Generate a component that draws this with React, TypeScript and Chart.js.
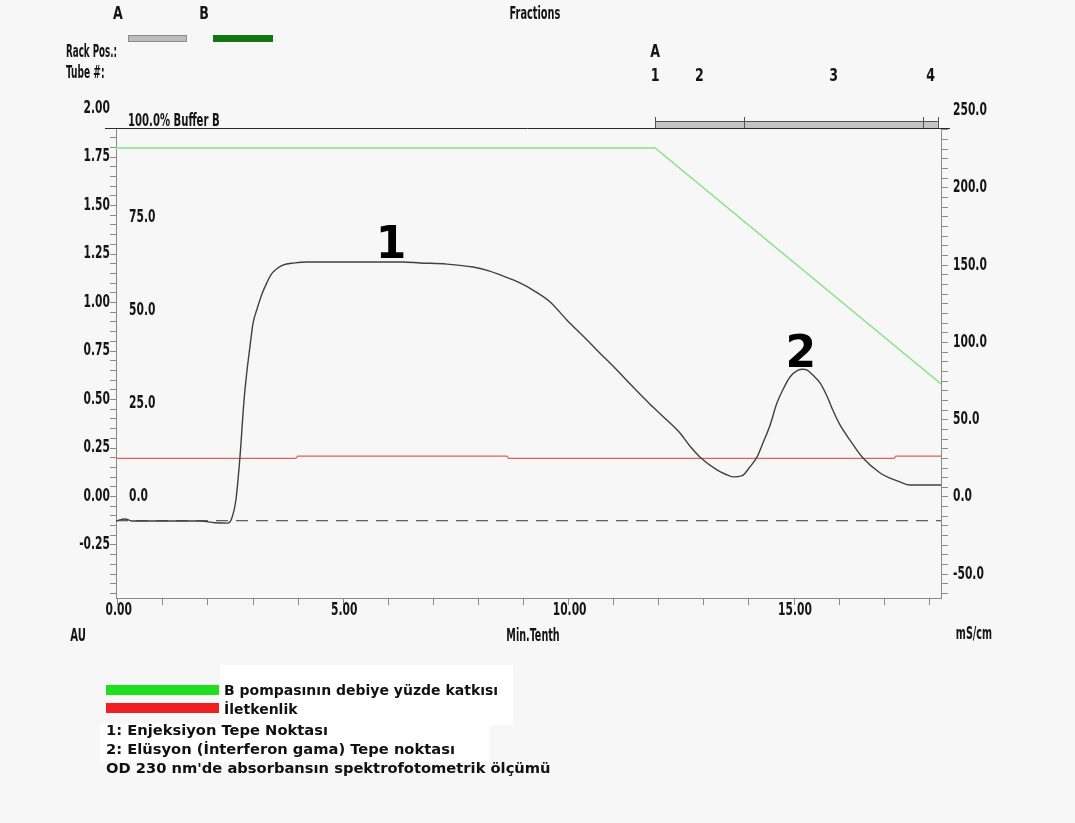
import React, { useEffect, useRef } from 'react';
import { Chart, registerables } from 'chart.js';
Chart.register(...registerables);

const W = 1075;
const H = 823;

// Absorbance trace (OD 230 nm, AU) against time (Min.Tenth)
const auTime = [-0.04, 0.16, 0.31, 1.0, 1.82, 2.15, 2.44, 2.53, 2.62, 2.71, 2.8, 2.86, 2.93, 3.0, 3.08, 3.2, 3.31, 3.42, 3.66, 3.93, 4.19, 5.15, 6.32, 6.7, 7.3, 7.88, 8.25, 8.48, 8.92, 9.21, 9.59, 9.96, 10.32, 10.69, 11.07, 11.43, 11.8, 12.18, 12.47, 12.69, 12.91, 13.29, 13.47, 13.65, 13.84, 14.02, 14.18, 14.31, 14.47, 14.62, 14.75, 14.91, 15.09, 15.19, 15.29, 15.46, 15.58, 15.73, 15.86, 16.02, 16.24, 16.53, 16.91, 17.13, 17.35, 17.57, 17.73, 18.26];
const auValue = [-0.126, -0.116, -0.126, -0.126, -0.126, -0.135, -0.137, -0.111, -0.018, 0.204, 0.497, 0.637, 0.77, 0.894, 0.96, 1.045, 1.104, 1.15, 1.193, 1.204, 1.209, 1.209, 1.209, 1.204, 1.198, 1.183, 1.162, 1.142, 1.101, 1.064, 1.003, 0.91, 0.827, 0.74, 0.652, 0.564, 0.477, 0.394, 0.327, 0.26, 0.204, 0.137, 0.116, 0.101, 0.106, 0.152, 0.204, 0.276, 0.369, 0.482, 0.549, 0.616, 0.652, 0.656, 0.652, 0.616, 0.585, 0.518, 0.446, 0.369, 0.291, 0.198, 0.121, 0.095, 0.075, 0.059, 0.059, 0.059];

// % Buffer B (green)
const bufferTime = [-0.04, 11.92, 18.26];
const bufferValue = [93.8, 93.8, 30.4];

// Conductivity mS/cm (red)
const condTime = [-0.04, 3.95, 3.99, 8.63, 8.67, 17.22, 17.26, 18.26];
const condValue = [25.0, 25.0, 26.5, 26.5, 25.0, 25.0, 26.5, 26.5];

// Baseline (dashed)
const baseTime = [-0.04, 18.26];
const baseValue = [-0.125, -0.125];

// Axis ranges and ticks
const xRange = [-0.04, 18.26];
const auRange = [-0.5232, 1.8995];
const condRange = [-65.33, 238.68];
const bufRange = [-27.15, 99.19];
const xTickValues = [0, 1, 2, 3, 4, 5, 6, 7, 8, 9, 10, 11, 12, 13, 14, 15, 16, 17, 18];
const xLabelValues = [0, 5, 10, 15];
const auLabelValues = [-0.25, 0, 0.25, 0.5, 0.75, 1.0, 1.25, 1.5, 1.75, 2.0];
const condLabelValues = [-50, 0, 50, 100, 150, 200, 250];
const bufLabelValues = [0, 25, 50, 75];
const bufTopLabel = '100.0% Buffer B';

// Fractions
const fractionBounds = [11.92, 13.89, 17.86, 18.19];
const tubeLabels = ['1', '2', '3', '4'];
const tubeLabelTimes = [11.92, 12.9, 15.88, 18.03];

// Peak annotations
const peakLabels = ['1', '2'];
const peakTimes = [6.06, 15.15];
const peakAU = [1.229, 0.668];

// Legend
const legendSeries = ['B pompasının debiye yüzde katkısı', 'İletkenlik'];
const legendColors = ['#1fe01f', '#ee2020'];
const legendNotes = ['1: Enjeksiyon Tepe Noktası', '2: Elüsyon (İnterferon gama) Tepe noktası', "OD 230 nm'de absorbansın spektrofotometrik ölçümü"];

const NARROW = "'DejaVu Sans Condensed', 'Liberation Sans Narrow', 'DejaVu Sans', sans-serif";
const AXIS_COLOR = '#8a8a8a';
const TEXT = '#141414';
const SQ = 0.7;

function pts(xs: number[], ys: number[]) {
  return xs.map((x, i) => ({ x, y: ys[i] }));
}

function steps(min: number, max: number, step: number) {
  const out: { value: number }[] = [];
  const start = Math.ceil(min / step);
  const end = Math.floor(max / step);
  for (let i = start; i <= end; i++) out.push({ value: Math.round(i * step * 10000) / 10000 });
  return out;
}

// condensed axis-style text
function ntext(ctx: CanvasRenderingContext2D, s: string, x: number, y: number, size = 17, align: CanvasTextAlign = 'left', sx = SQ) {
  ctx.save();
  ctx.translate(x, y);
  ctx.scale(sx, 1);
  ctx.font = `bold ${size}px ${NARROW}`;
  ctx.fillStyle = TEXT;
  ctx.textAlign = align;
  ctx.textBaseline = 'middle';
  ctx.fillText(s, 0, 0);
  ctx.restore();
}

function text(ctx: CanvasRenderingContext2D, s: string, x: number, y: number, font: string, align: CanvasTextAlign = 'left', color = TEXT) {
  ctx.save();
  ctx.font = font;
  ctx.fillStyle = color;
  ctx.textAlign = align;
  ctx.textBaseline = 'middle';
  ctx.fillText(s, x, y);
  ctx.restore();
}

const decorPlugin = {
  id: 'decor',
  afterDraw(chart: any) {
    const ctx: CanvasRenderingContext2D = chart.ctx;
    const { x, y, y2, yb } = chart.scales;
    const area = chart.chartArea;

    // top frame line
    ctx.save();
    ctx.strokeStyle = '#2a2a2a';
    ctx.lineWidth = 1;
    ctx.beginPath();
    ctx.moveTo(area.left - 11, area.top + 0.5);
    ctx.lineTo(area.right + 9, area.top + 0.5);
    ctx.stroke();
    ctx.restore();

    // axis tick labels
    xLabelValues.forEach((v) => ntext(ctx, v.toFixed(2), x.getPixelForValue(v) + 1, 611, 17, 'center'));
    auLabelValues.forEach((v) => ntext(ctx, v.toFixed(2), area.left - 6, y.getPixelForValue(v), 17, 'right'));
    condLabelValues.forEach((v) => ntext(ctx, v.toFixed(1), area.right + 12, y2.getPixelForValue(v), 17, 'left'));

    // % Buffer B labels
    bufLabelValues.forEach((v) => ntext(ctx, v.toFixed(1), area.left + 13, yb.getPixelForValue(v), 17, 'left'));
    ntext(ctx, bufTopLabel, area.left + 12, yb.getPixelForValue(100) - 3, 17, 'left', 0.66);

    // Fractions bar
    const fx = fractionBounds.map((t) => x.getPixelForValue(t));
    ctx.save();
    ctx.fillStyle = '#c4c4c4';
    ctx.fillRect(fx[0], area.top - 6, fx[fx.length - 1] - fx[0], 6);
    ctx.strokeStyle = '#555';
    ctx.lineWidth = 1;
    ctx.beginPath();
    ctx.moveTo(fx[0], area.top - 6.5);
    ctx.lineTo(fx[fx.length - 1], area.top - 6.5);
    fx.forEach((px) => {
      ctx.moveTo(Math.round(px) + 0.5, area.top - 11);
      ctx.lineTo(Math.round(px) + 0.5, area.top);
    });
    ctx.stroke();
    ctx.restore();
    ntext(ctx, 'A', x.getPixelForValue(tubeLabelTimes[0]), 52, 18, 'center', 0.78);
    tubeLabels.forEach((l, i) => ntext(ctx, l, x.getPixelForValue(tubeLabelTimes[i]), 76, 18, 'center', 0.78));

    // header
    ntext(ctx, 'A', 118, 14, 18, 'center', 0.78);
    ntext(ctx, 'B', 204, 14, 18, 'center', 0.78);
    ntext(ctx, 'Fractions', 535, 15, 17, 'center', 0.64);
    ntext(ctx, 'Rack Pos.:', 66, 52, 18, 'left', 0.54);
    ntext(ctx, 'Tube #:', 66, 73, 18, 'left', 0.56);
    ctx.save();
    ctx.fillStyle = '#bdbdbd';
    ctx.fillRect(128, 35, 59, 7);
    ctx.strokeStyle = '#8c8c8c';
    ctx.strokeRect(128.5, 35.5, 58, 6);
    ctx.fillStyle = '#127612';
    ctx.fillRect(213, 35, 60, 7);
    ctx.restore();

    // axis titles
    ntext(ctx, 'AU', 78, 637, 17, 'center', 0.66);
    ntext(ctx, 'Min.Tenth', 533, 637, 17, 'center', 0.63);
    ntext(ctx, 'mS/cm', 974, 635, 17, 'center', 0.63);

    // peak labels
    peakLabels.forEach((l, i) => {
      ctx.save();
      ctx.font = "bold 44px 'DejaVu Sans', sans-serif";
      ctx.fillStyle = '#000';
      ctx.textAlign = 'center';
      ctx.textBaseline = 'alphabetic';
      ctx.fillText(l, x.getPixelForValue(peakTimes[i]), y.getPixelForValue(peakAU[i]));
      ctx.restore();
    });

    // legend
    ctx.save();
    ctx.fillStyle = '#ffffff';
    ctx.fillRect(220, 665, 293, 60);
    ctx.fillRect(100, 724, 390, 38);
    legendColors.forEach((c, i) => {
      ctx.fillStyle = c;
      ctx.fillRect(106, 685 + i * 18, 113, 10);
    });
    ctx.restore();
    legendSeries.forEach((s, i) => text(ctx, s, 224, 691 + i * 19, "bold 14px 'DejaVu Sans', sans-serif", 'left', '#111'));
    legendNotes.forEach((s, i) => text(ctx, s, 106, 731 + i * 19, "bold 14.7px 'DejaVu Sans', sans-serif", 'left', '#111'));
  },
};

export default function App() {
  const ref = useRef<HTMLCanvasElement>(null);
  useEffect(() => {
    const canvas = ref.current!;
    const chart = new Chart(canvas, {
      type: 'line',
      data: {
        datasets: [
          {
            label: 'OD 230',
            data: pts(auTime, auValue),
            xAxisID: 'x',
            yAxisID: 'y',
            borderColor: '#404040',
            borderWidth: 1.4,
            pointRadius: 0,
            cubicInterpolationMode: 'monotone',
          },
          {
            label: '% Buffer B',
            data: pts(bufferTime, bufferValue),
            xAxisID: 'x',
            yAxisID: 'yb',
            borderColor: '#86e286',
            borderWidth: 1.4,
            pointRadius: 0,
          },
          {
            label: 'mS/cm',
            data: pts(condTime, condValue),
            xAxisID: 'x',
            yAxisID: 'y2',
            borderColor: '#e06060',
            borderWidth: 1.2,
            pointRadius: 0,
          },
          {
            label: 'baseline',
            data: pts(baseTime, baseValue),
            xAxisID: 'x',
            yAxisID: 'y',
            borderColor: '#333',
            borderWidth: 1,
            borderDash: [12, 8],
            pointRadius: 0,
          },
        ],
      },
      options: {
        responsive: false,
        animation: false,
        events: [],
        layout: { padding: { top: 128, left: 0, right: 0, bottom: 0 } },
        plugins: { legend: { display: false }, tooltip: { enabled: false } },
        scales: {
          x: {
            type: 'linear',
            position: 'bottom',
            min: xRange[0],
            max: xRange[1],
            afterFit: (s: any) => { s.height = 225; },
            afterBuildTicks: (s: any) => { s.ticks = xTickValues.map((v) => ({ value: v })); },
            ticks: { display: false, autoSkip: false },
            grid: { drawOnChartArea: false, tickLength: 7, color: AXIS_COLOR },
            border: { display: true, color: AXIS_COLOR },
          },
          y: {
            type: 'linear',
            position: 'left',
            min: auRange[0],
            max: auRange[1],
            afterFit: (s: any) => { s.width = 116; },
            afterBuildTicks: (s: any) => { s.ticks = steps(auRange[0], auRange[1], 0.05); },
            ticks: { display: false, autoSkip: false },
            grid: { drawOnChartArea: false, tickLength: 6, color: AXIS_COLOR },
            border: { display: true, color: AXIS_COLOR },
          },
          y2: {
            type: 'linear',
            position: 'right',
            min: condRange[0],
            max: condRange[1],
            afterFit: (s: any) => { s.width = 134; },
            afterBuildTicks: (s: any) => { s.ticks = steps(condRange[0], condRange[1], 6.25); },
            ticks: { display: false, autoSkip: false },
            grid: { drawOnChartArea: false, tickLength: 7, color: AXIS_COLOR },
            border: { display: true, color: AXIS_COLOR },
          },
          yb: {
            type: 'linear',
            display: false,
            min: bufRange[0],
            max: bufRange[1],
          },
        },
      },
      plugins: [decorPlugin],
    } as any);
    return () => chart.destroy();
  }, []);
  return (
    <div style={{ position: 'fixed', left: 0, top: 0, width: W, height: H, background: '#f7f7f7' }}>
      <canvas ref={ref} width={W} height={H} style={{ display: 'block', width: W, height: H }} />
    </div>
  );
}
